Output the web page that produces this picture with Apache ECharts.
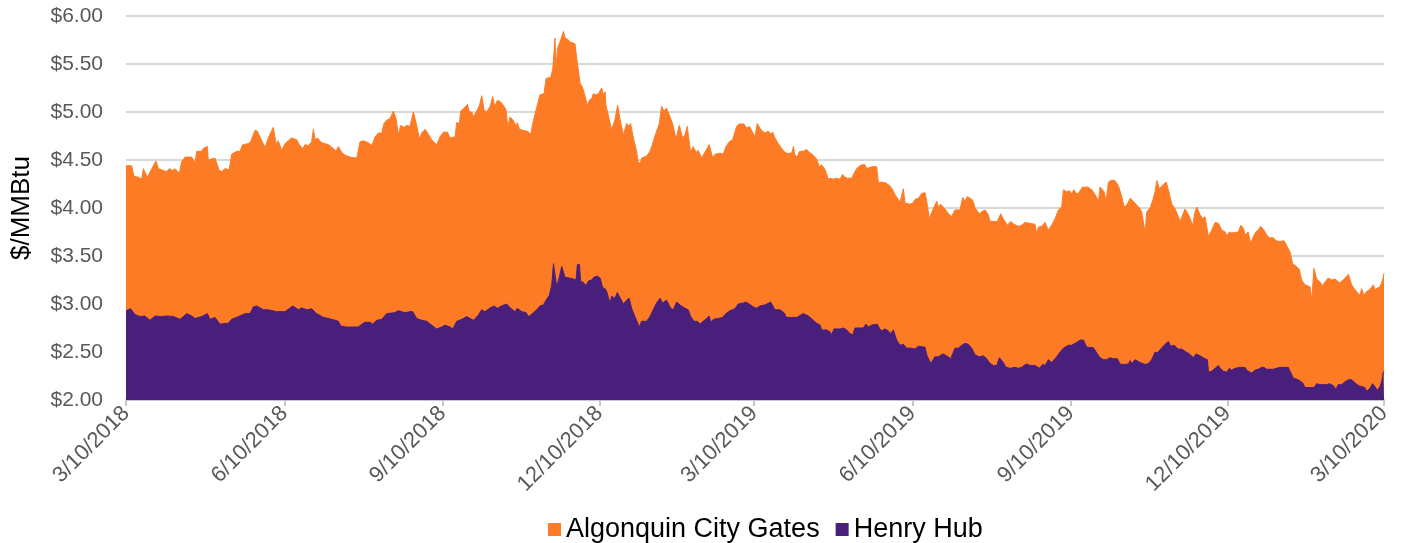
<!DOCTYPE html>
<html>
<head>
<meta charset="utf-8">
<script src="https://cdn.jsdelivr.net/npm/echarts@6/dist/echarts.min.js"></script>
<style>
html,body{margin:0;padding:0;background:#fff;}
#chart{width:1401px;height:543px;}
</style>
</head>
<body>
<div id="chart"></div>
<script>
// Day offsets are counted from the first date (3/10/2018)
const startDate = '3/10/2018';
const tickLabels = ['3/10/2018','6/10/2018','9/10/2018','12/10/2018','3/10/2019','6/10/2019','9/10/2019','12/10/2019','3/10/2020'];

const algDays = [0,3.3,4.6,7.2,9.1,10.1,12.4,17.4,18.8,21.7,23.6,25.2,27.1,28.5,31.0,32.3,34.3,38.2,40.1,41.1,44.0,44.9,47.3,47.8,51.7,54.2,55.6,57.5,60.0,61.4,64.3,66.2,67.8,71.1,72.4,75.0,76.3,80.8,82.7,85.6,87.2,88.5,90.5,92.4,
96.3,99.2,100.7,101.5,102.7,104.0,106.0,107.9,108.9,109.8,111.2,113.7,117.6,120.5,122.0,123.4,125.3,127.3,130.2,131.1,134.1,136.0,137.9,140.8,142.8,144.7,146.6,148.6,149.9,151.9,153.4,155.4,156.9,158.3,159.6,161.6,163.1,165.0,167.0,168.9,170.5,171.8,173.8,175.7,177.6,180.5,182.5,184.4,185.4,
186.8,188.3,191.2,192.2,193.7,194.5,196.4,198.4,199.5,200.9,201.9,203.8,205.4,206.7,208.1,209.6,211.6,213.1,214.1,215.8,217.4,219.3,220.9,221.8,223.2,225.1,226.7,227.4,228.6,230.5,233.2,235.2,236.7,238.7,240.6,242.9,244.1,246.8,248.0,248.7,249.3,249.9,250.7,252.6,254.2,255.1,256.5,258.0,259.6,260.9,261.9,262.9,263.9,265.4,266.8,268.1,269.3,270.6,271.6,273.2,274.5,275.5,276.4,277.4,278.4,
278.9,280.2,282.2,284.1,285.1,285.7,287.0,289.0,290.9,292.4,293.2,294.8,296.7,297.7,299.0,299.6,302.5,304.5,306.4,308.3,309.9,311.2,312.6,314.1,316.1,317.6,319.6,321.5,323.4,324.8,326.1,328.1,329.6,331.2,332.5,334.5,337.0,338.9,340.9,342.2,345.1,347.1,348.6,350.6,352.5,354.8,356.4,359.1,360.6,362.2,363.5,365.5,366.8,368.4,369.9,371.3,
373.2,374.6,375.8,377.1,379.1,381.0,382.3,383.9,386.8,387.8,388.7,390.1,391.3,393.6,395.5,397.1,399.4,401.3,402.9,404.2,406.2,408.1,409.5,411.0,412.6,414.9,416.4,417.8,419.1,421.7,422.6,423.6,425.0,427.5,429.4,430.4,431.4,433.3,436.2,437.2,439.1,441.6,443.9,445.5,446.8,449.8,450.7,451.7,452.7,453.6,455.6,457.1,458.5,460.4,462.3,464.3,
465.3,466.8,468.8,471.1,472.1,473.4,475.9,477.9,479.8,481.7,484.6,485.6,486.2,487.5,488.9,490.5,492.0,493.4,495.9,497.2,499.2,501.1,502.1,504.0,506.3,508.3,509.8,512.2,513.3,514.1,516.0,518.5,520.5,521.1,522.4,525.3,528.2,529.2,530.2,532.1,534.0,536.0,537.9,539.9,541.8,543.7,544.7,546.6,548.2,549.5,550.9,552.1,553.4,554.4,555.9,557.3,
558.7,561.2,563.1,565.1,566.0,568.3,569.5,570.9,572.8,574.7,576.7,578.6,580.0,581.5,583.5,585.4,587.3,588.9,590.2,591.2,592.2,593.1,595.1,596.6,598.0,599.0,600.5,602.4,604.4,605.7,607.7,609.6,611.5,612.5,614.1,615.4,617.4,619.9,621.2,622.2,624.1,625.7,627.0,629.0,630.9,632.9,634.8,636.7,638.7,639.6,641.2,642.5,643.5,646.4,647.8,649.3,650.3,
652.1,653.5,655.0,656.6,657.9,659.3,661.2,662.8,664.3,666.7,668.2,670.5,672.9,674.4,676.4,677.9,680.2,681.8,683.1,685.1,688.0,689.0,690.3,691.9,693.8,695.3,696.7,698.6,700.6,702.5,703.9,705.4,707.3,708.9,710.3,712.2,714.1,715.5,717.0,718.0,719.4,720.9,722.8,723.8,724.8,725.7,726.7,728.7,730.2,731];

const algValues = [4.44,4.44,4.33,4.32,4.30,4.41,4.32,4.49,4.41,4.39,4.38,4.41,4.39,4.41,4.36,4.48,4.53,4.53,4.47,4.59,4.59,4.62,4.64,4.50,4.52,4.39,4.38,4.41,4.40,4.56,4.59,4.59,4.66,4.67,4.69,4.81,4.80,4.63,4.73,4.84,4.67,4.70,4.60,4.67,
4.73,4.71,4.66,4.67,4.62,4.66,4.65,4.69,4.82,4.71,4.73,4.68,4.66,4.62,4.59,4.64,4.58,4.55,4.53,4.55,4.52,4.69,4.70,4.68,4.65,4.74,4.78,4.78,4.88,4.92,4.93,5.01,4.93,4.76,4.86,4.84,4.86,4.85,5.00,4.86,4.72,4.78,4.82,4.77,4.71,4.66,4.74,4.79,4.78,
4.79,4.73,4.74,4.89,4.88,5.01,5.04,5.08,5.00,5.00,4.95,5.01,5.07,5.17,5.02,5.00,5.06,5.16,5.06,5.12,5.11,5.07,5.02,4.84,4.95,4.91,4.85,4.89,4.82,4.81,4.80,4.77,4.91,5.05,5.18,5.19,5.35,5.36,5.45,5.45,5.77,5.45,5.66,5.75,5.84,5.77,5.76,5.73,5.72,5.71,5.56,5.57,5.30,5.25,5.16,5.07,5.125,5.14,5.19,5.18,5.19,5.17,5.25,5.18,5.21,
5.07,4.97,4.81,4.92,4.90,5.07,4.93,4.76,4.88,4.85,4.88,4.73,4.59,4.47,4.47,4.52,4.54,4.59,4.69,4.80,4.88,5.06,5.01,5.04,4.95,4.88,4.72,4.86,4.73,4.76,4.85,4.58,4.64,4.58,4.60,4.52,4.60,4.66,4.52,4.56,4.57,4.56,4.64,4.69,4.71,4.85,4.875,4.875,4.83,4.85,4.81,4.74,4.88,4.83,4.80,4.78,
4.80,4.77,4.79,4.73,4.67,4.62,4.59,4.57,4.57,4.64,4.55,4.53,4.59,4.59,4.61,4.58,4.55,4.51,4.43,4.45,4.40,4.30,4.31,4.30,4.31,4.30,4.35,4.32,4.31,4.31,4.30,4.38,4.42,4.45,4.45,4.41,4.43,4.43,4.43,4.26,4.27,4.26,4.23,4.19,4.14,4.06,4.05,4.20,4.05,4.05,4.04,4.05,4.09,4.10,4.15,4.16,
4.07,3.89,3.98,4.07,4.01,4.04,3.99,3.94,3.91,3.98,3.98,3.98,4.11,4.07,4.12,4.10,4.08,4.00,3.94,3.96,3.98,3.93,3.86,3.86,3.86,3.94,3.885,3.82,3.80,3.86,3.83,3.81,3.82,3.81,3.85,3.84,3.83,3.73,3.80,3.81,3.85,3.77,3.82,3.89,3.98,4.01,4.19,4.17,4.18,4.15,4.19,4.15,4.15,4.18,4.22,4.215,
4.22,4.19,4.14,4.07,4.22,4.17,4.07,4.27,4.29,4.285,4.23,4.12,4.01,4.03,4.10,4.07,4.03,4.00,3.96,3.96,3.74,3.96,4.00,4.08,4.17,4.285,4.20,4.24,4.27,4.19,4.04,3.99,3.91,3.86,3.93,3.99,3.93,3.82,3.96,4.01,3.93,3.89,3.91,3.70,3.77,3.85,3.84,3.77,3.75,3.71,3.75,3.74,3.75,3.75,3.82,3.79,3.72,
3.75,3.63,3.70,3.75,3.77,3.81,3.77,3.72,3.69,3.69,3.66,3.65,3.66,3.61,3.54,3.42,3.39,3.36,3.25,3.20,3.18,3.04,3.37,3.26,3.23,3.19,3.23,3.27,3.25,3.26,3.24,3.22,3.25,3.28,3.31,3.20,3.15,3.12,3.09,3.16,3.09,3.13,3.15,3.14,3.20,3.15,3.13,3.18,3.25,3.32];

const hhDays = [0,2.7,5.2,8.1,11.0,13.9,16.9,20.7,23.6,27.5,31.4,35.3,38.2,40.1,44.0,47.3,48.8,51.7,54.6,59.5,61.4,66.2,69.2,72.1,74.0,75.9,79.8,82.7,87.5,92.4,
96.9,100.2,102.1,105.0,107.9,108.9,110.8,114.7,117.6,121.5,123.4,124.8,128.2,131.1,135.0,137.0,138.9,141.8,143.3,145.7,148.6,151.5,156.3,158.3,162.1,165.0,166.6,168.9,171.8,174.7,177.6,180.5,183.4,185.4,
188.3,189.9,192.2,195.1,198.0,199.9,201.9,204.8,206.7,208.6,211.6,213.9,215.8,218.3,221.2,223.2,224.1,226.1,227.4,230.0,232.5,233.8,235.2,236.3,238.7,240.6,242.5,244.1,246.0,247.4,248.4,249.3,250.3,251.8,253.2,254.2,255.1,257.7,260.0,261.5,262.3,263.5,264.2,265.4,267.3,268.7,270.6,272.0,273.9,275.5,277.0,278.4,
279.3,281.2,282.2,284.1,285.5,286.6,289.0,290.9,292.4,293.8,295.7,298.3,299.6,302.5,304.5,306.4,308.3,310.3,311.8,314.1,316.5,318.0,320.0,321.9,324.8,326.7,328.1,330.0,332.0,333.5,335.4,337.4,338.9,339.7,341.3,344.2,346.7,348.0,350.9,353.8,355.8,358.7,360.2,362.2,364.5,366.4,368.4,371.3,
372.3,374.6,377.1,380.0,382.3,383.9,386.8,389.7,391.6,393.6,396.5,399.4,401.3,403.3,404.2,407.1,409.1,410.0,411.4,414.9,416.8,418.8,420.7,422.3,423.6,426.5,428.4,430.0,431.4,433.3,436.6,437.7,439.1,441.0,443.0,444.3,445.9,447.8,449.8,451.7,453.6,454.6,456.5,458.5,460.4,464.3,
465.3,467.6,470.1,472.1,474.6,476.9,479.2,481.7,483.7,485.6,487.5,489.5,491.4,493.4,495.9,498.2,500.1,502.1,504.0,506.0,507.5,509.4,511.4,513.7,516.6,518.5,520.5,523.0,525.3,528.2,530.7,532.7,534.0,536.0,537.9,540.8,542.8,544.7,547.6,549.5,552.4,554.4,556.3,
558.3,562.1,564.1,566.0,568.0,569.9,571.8,573.8,576.1,577.6,579.6,582.5,583.5,584.4,586.4,589.3,592.2,594.1,596.0,598.0,599.3,601.9,603.8,605.7,607.1,609.0,611.5,613.5,616.0,617.9,620.3,621.8,624.1,627.0,628.4,629.0,630.9,632.9,634.8,635.8,637.7,639.6,641.2,642.5,644.5,647.4,650.3,
651.2,652.1,654.1,656.0,657.9,659.9,661.2,662.8,666.7,667.6,670.5,675.4,676.4,678.3,681.2,683.7,685.1,688.0,689.0,690.3,691.9,693.8,695.7,697.7,699.2,701.5,703.1,704.4,706.4,708.3,710.3,712.2,714.1,716.1,718.0,719.9,720.9,722.8,724.4,725.7,727.1,728.7,729.6,730.6,731];

const hhValues = [2.93,2.95,2.89,2.87,2.875,2.83,2.875,2.87,2.875,2.87,2.84,2.90,2.875,2.85,2.87,2.90,2.84,2.86,2.79,2.80,2.84,2.875,2.90,2.90,2.97,2.98,2.94,2.94,2.92,2.92,
2.98,2.94,2.96,2.94,2.95,2.93,2.90,2.86,2.85,2.83,2.82,2.77,2.76,2.76,2.76,2.79,2.81,2.81,2.79,2.83,2.84,2.90,2.91,2.93,2.91,2.92,2.92,2.85,2.83,2.82,2.78,2.74,2.76,2.78,
2.76,2.74,2.82,2.84,2.87,2.85,2.83,2.885,2.94,2.92,2.96,2.98,2.955,2.98,3.00,2.96,2.98,2.92,2.955,2.92,2.91,2.87,2.885,2.87,2.94,2.98,2.99,3.04,3.09,3.20,3.42,3.43,3.18,3.28,3.39,3.38,3.28,3.27,3.26,3.25,3.41,3.41,3.23,3.23,3.19,3.24,3.25,3.28,3.29,3.27,3.17,3.16,
3.13,3.01,3.08,3.06,3.12,3.13,3.00,3.04,3.06,2.955,2.87,2.76,2.82,2.82,2.87,2.94,3.01,3.06,3.01,3.04,2.955,2.94,3.02,2.99,2.955,2.94,2.87,2.82,2.82,2.79,2.82,2.85,2.875,2.81,2.84,2.85,2.86,2.89,2.93,2.95,3.00,3.01,3.02,3.00,2.97,2.955,2.98,2.99,
3.00,3.02,2.94,2.94,2.91,2.86,2.86,2.86,2.88,2.90,2.875,2.83,2.80,2.78,2.73,2.73,2.71,2.68,2.74,2.74,2.75,2.73,2.69,2.68,2.75,2.75,2.75,2.79,2.76,2.78,2.79,2.75,2.72,2.74,2.72,2.69,2.73,2.625,2.57,2.58,2.54,2.53,2.54,2.53,2.56,2.55,
2.47,2.38,2.45,2.45,2.48,2.46,2.43,2.54,2.54,2.57,2.59,2.58,2.54,2.47,2.45,2.46,2.43,2.38,2.36,2.36,2.44,2.40,2.34,2.33,2.34,2.33,2.34,2.375,2.36,2.36,2.33,2.37,2.36,2.42,2.39,2.45,2.50,2.54,2.57,2.57,2.60,2.625,2.625,
2.55,2.545,2.49,2.44,2.42,2.42,2.44,2.43,2.43,2.375,2.37,2.375,2.41,2.38,2.42,2.39,2.37,2.38,2.42,2.50,2.49,2.545,2.58,2.61,2.56,2.57,2.53,2.53,2.50,2.48,2.44,2.48,2.46,2.43,2.42,2.29,2.30,2.33,2.36,2.33,2.30,2.29,2.33,2.31,2.33,2.34,2.34,
2.31,2.32,2.28,2.31,2.32,2.34,2.34,2.32,2.32,2.34,2.34,2.34,2.30,2.23,2.21,2.18,2.13,2.13,2.15,2.13,2.17,2.16,2.16,2.16,2.17,2.15,2.11,2.16,2.16,2.19,2.21,2.21,2.18,2.15,2.14,2.13,2.09,2.12,2.17,2.14,2.10,2.14,2.19,2.29,2.30];

const ORANGE = '#fe7b25';
const PURPLE = '#481f7b';

function dayNumber(s) {
  const [m, d, y] = s.split('/').map(Number);
  return Date.UTC(y, m - 1, d) / 86400000;
}
const t0 = dayNumber(startDate);
const tickDays = tickLabels.map(s => dayNumber(s) - t0);

const font = "'Liberation Sans', Arial, sans-serif";
const chart = echarts.init(document.getElementById('chart'), null, {renderer: 'canvas'});
chart.setOption({
  animation: false,
  textStyle: {fontFamily: font},
  grid: {left: 126, right: 17, top: 16, bottom: 143, containLabel: false},
  legend: {
    data: ['Algonquin City Gates', 'Henry Hub'],
    left: 543, top: 511,
    icon: 'rect', itemWidth: 13, itemHeight: 13, itemGap: 16,
    textStyle: {fontSize: 27, color: '#000', fontFamily: font}
  },
  xAxis: {
    type: 'value', min: 0, max: tickDays[tickDays.length - 1],
    splitLine: {show: false},
    axisLine: {show: true, lineStyle: {color: '#c6c3d2', width: 2}},
    axisTick: {show: true, customValues: tickDays, length: 6, lineStyle: {color: '#c8c8c8', width: 2}},
    axisLabel: {
      customValues: tickDays, rotate: 45, fontSize: 22, color: '#595959', margin: 10, fontFamily: font,
      formatter: v => { const i = tickDays.findIndex(t => Math.abs(t - v) < 0.5); return i >= 0 ? tickLabels[i] : ''; }
    }
  },
  yAxis: {
    type: 'value', min: 2, max: 6, interval: 0.5,
    name: '$/MMBtu', nameLocation: 'middle', nameGap: 91, nameRotate: 90,
    nameTextStyle: {fontSize: 26, color: '#000', fontFamily: font},
    axisLabel: {formatter: v => '$' + v.toFixed(2), fontSize: 21, color: '#595959', margin: 23, fontFamily: font},
    splitLine: {lineStyle: {color: '#d9d9d3', width: 2}},
    axisLine: {show: false}, axisTick: {show: false}
  },
  series: [
    {
      name: 'Algonquin City Gates', type: 'line', symbol: 'none', showSymbol: false,
      data: algDays.map((d, i) => [d, algValues[i]]),
      lineStyle: {width: 1, color: ORANGE}, itemStyle: {color: ORANGE},
      areaStyle: {color: ORANGE, opacity: 1, origin: 'start'}
    },
    {
      name: 'Henry Hub', type: 'line', symbol: 'none', showSymbol: false,
      data: hhDays.map((d, i) => [d, hhValues[i]]),
      lineStyle: {width: 1, color: PURPLE}, itemStyle: {color: PURPLE},
      areaStyle: {color: PURPLE, opacity: 1, origin: 'start'}
    }
  ]
});
</script>
</body>
</html>
